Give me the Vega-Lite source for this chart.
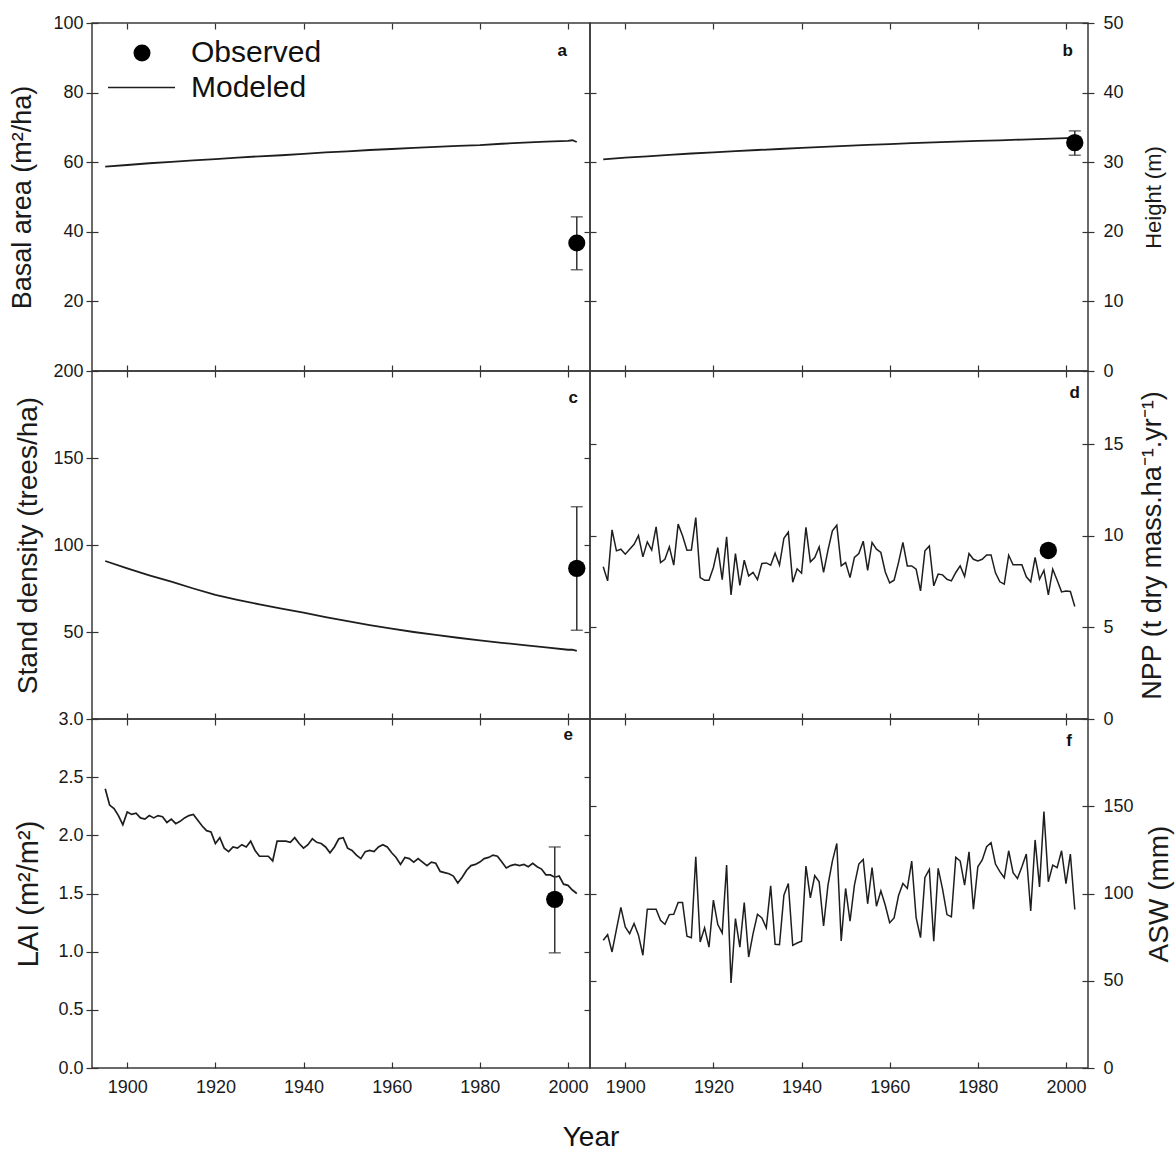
{
  "$schema": "https://vega.github.io/schema/vega-lite/v6.json",
  "background": "white",
  "padding": {"left": 8, "top": 13, "right": 5, "bottom": 5},
  "bounds": "flush",
  "spacing": 0,
  "columns": 2,
  "title": {"text": "Year", "orient": "bottom", "anchor": "middle", "frame": "bounds", "fontSize": 28, "fontWeight": "normal", "offset": 27, "color": "#111"},
  "config": {
    "font": "Liberation Sans",
    "view": {"stroke": "#3a3a3a", "strokeWidth": 1.5},
    "axis": {"domain": false, "grid": false, "tickColor": "#333", "tickWidth": 1.2, "labelFont": "Liberation Sans", "labelFontSize": 18, "labelColor": "#1a1a1a", "titleFont": "Liberation Sans", "titleFontWeight": "normal", "titleColor": "#1a1a1a"},
    "title": {"font": "Liberation Sans"}
  },
  "datasets": {
    "ba_mod": [
      {"year":1895,"value":58.7},{"year":1900,"value":59.2},{"year":1905,"value":59.7},{"year":1910,"value":60.1},{"year":1915,"value":60.5},{"year":1920,"value":60.9},{"year":1925,"value":61.3},{"year":1930,"value":61.7},{"year":1935,"value":62.0},{"year":1940,"value":62.4},{"year":1945,"value":62.8},{"year":1950,"value":63.1},{"year":1955,"value":63.5},{"year":1960,"value":63.8},{"year":1965,"value":64.1},{"year":1970,"value":64.4},{"year":1975,"value":64.7},{"year":1980,"value":64.9},{"year":1985,"value":65.3},{"year":1990,"value":65.6},{"year":1995,"value":65.9},{"year":2000,"value":66.1},{"year":2001,"value":66.3},{"year":2002,"value":65.8}
    ],
    "ht_mod": [
      {"year":1895,"value":30.4},{"year":1900,"value":30.65},{"year":1905,"value":30.85},{"year":1910,"value":31.05},{"year":1915,"value":31.25},{"year":1920,"value":31.4},{"year":1925,"value":31.6},{"year":1930,"value":31.75},{"year":1935,"value":31.9},{"year":1940,"value":32.05},{"year":1945,"value":32.2},{"year":1950,"value":32.35},{"year":1955,"value":32.5},{"year":1960,"value":32.6},{"year":1965,"value":32.75},{"year":1970,"value":32.85},{"year":1975,"value":32.95},{"year":1980,"value":33.05},{"year":1985,"value":33.15},{"year":1990,"value":33.25},{"year":1995,"value":33.35},{"year":2000,"value":33.45},{"year":2002,"value":33.5}
    ],
    "sd_mod": [
      {"year":1895,"value":90.8},{"year":1900,"value":86.6},{"year":1905,"value":82.6},{"year":1910,"value":78.9},{"year":1915,"value":75.0},{"year":1920,"value":71.3},{"year":1925,"value":68.5},{"year":1930,"value":65.9},{"year":1935,"value":63.4},{"year":1940,"value":61.1},{"year":1945,"value":58.6},{"year":1950,"value":56.3},{"year":1955,"value":54.0},{"year":1960,"value":51.9},{"year":1965,"value":50.0},{"year":1970,"value":48.3},{"year":1975,"value":46.7},{"year":1980,"value":45.2},{"year":1985,"value":43.8},{"year":1990,"value":42.5},{"year":1995,"value":41.2},{"year":2000,"value":39.8},{"year":2001,"value":39.9},{"year":2002,"value":39.1}
    ],
    "npp_mod": [
      {"year":1895,"value":8.31},{"year":1896,"value":7.54},{"year":1897,"value":10.33},{"year":1898,"value":9.18},{"year":1899,"value":9.27},{"year":1900,"value":9.00},{"year":1901,"value":9.27},{"year":1902,"value":9.54},{"year":1903,"value":10.02},{"year":1904,"value":8.85},
      {"year":1905,"value":9.67},{"year":1906,"value":9.22},{"year":1907,"value":10.49},{"year":1908,"value":8.54},{"year":1909,"value":8.72},{"year":1910,"value":9.40},{"year":1911,"value":8.40},{"year":1912,"value":10.64},{"year":1913,"value":10.00},{"year":1914,"value":9.22},
      {"year":1915,"value":9.23},{"year":1916,"value":11.00},{"year":1917,"value":7.72},{"year":1918,"value":7.58},{"year":1919,"value":7.58},{"year":1920,"value":8.27},{"year":1921,"value":9.36},{"year":1922,"value":7.61},{"year":1923,"value":9.95},{"year":1924,"value":6.78},
      {"year":1925,"value":9.03},{"year":1926,"value":7.30},{"year":1927,"value":8.67},{"year":1928,"value":7.81},{"year":1929,"value":8.00},{"year":1930,"value":7.61},{"year":1931,"value":8.49},{"year":1932,"value":8.52},{"year":1933,"value":8.40},{"year":1934,"value":9.05},
      {"year":1935,"value":8.40},{"year":1936,"value":9.87},{"year":1937,"value":10.20},{"year":1938,"value":7.47},{"year":1939,"value":8.20},{"year":1940,"value":7.96},{"year":1941,"value":10.46},{"year":1942,"value":8.58},{"year":1943,"value":8.82},{"year":1944,"value":9.40},
      {"year":1945,"value":8.00},{"year":1946,"value":9.22},{"year":1947,"value":10.27},{"year":1948,"value":10.58},{"year":1949,"value":8.36},{"year":1950,"value":8.54},{"year":1951,"value":7.72},{"year":1952,"value":8.82},{"year":1953,"value":9.03},{"year":1954,"value":9.71},
      {"year":1955,"value":8.12},{"year":1956,"value":9.64},{"year":1957,"value":9.27},{"year":1958,"value":9.09},{"year":1959,"value":8.03},{"year":1960,"value":7.43},{"year":1961,"value":7.58},{"year":1962,"value":8.54},{"year":1963,"value":9.64},{"year":1964,"value":8.36},
      {"year":1965,"value":8.36},{"year":1966,"value":8.18},{"year":1967,"value":6.99},{"year":1968,"value":9.18},{"year":1969,"value":9.45},{"year":1970,"value":7.27},{"year":1971,"value":7.91},{"year":1972,"value":7.87},{"year":1973,"value":7.63},{"year":1974,"value":7.54},
      {"year":1975,"value":8.00},{"year":1976,"value":8.36},{"year":1977,"value":7.78},{"year":1978,"value":9.03},{"year":1979,"value":8.72},{"year":1980,"value":8.63},{"year":1981,"value":8.72},{"year":1982,"value":8.96},{"year":1983,"value":8.96},{"year":1984,"value":7.98},
      {"year":1985,"value":7.49},{"year":1986,"value":7.36},{"year":1987,"value":8.94},{"year":1988,"value":8.42},{"year":1989,"value":8.42},{"year":1990,"value":8.42},{"year":1991,"value":7.76},{"year":1992,"value":7.49},{"year":1993,"value":8.82},{"year":1994,"value":7.63},
      {"year":1995,"value":8.12},{"year":1996,"value":6.78},{"year":1997,"value":8.18},{"year":1998,"value":7.58},{"year":1999,"value":6.94},{"year":2000,"value":6.99},{"year":2001,"value":6.96},{"year":2002,"value":6.14}
    ],
    "lai_mod": [
      {"year":1895,"value":2.40},{"year":1896,"value":2.26},{"year":1897,"value":2.23},{"year":1898,"value":2.17},{"year":1899,"value":2.09},{"year":1900,"value":2.20},{"year":1901,"value":2.18},{"year":1902,"value":2.19},{"year":1903,"value":2.15},{"year":1904,"value":2.14},
      {"year":1905,"value":2.17},{"year":1906,"value":2.15},{"year":1907,"value":2.17},{"year":1908,"value":2.16},{"year":1909,"value":2.11},{"year":1910,"value":2.14},{"year":1911,"value":2.10},{"year":1912,"value":2.12},{"year":1913,"value":2.15},{"year":1914,"value":2.17},
      {"year":1915,"value":2.18},{"year":1916,"value":2.13},{"year":1917,"value":2.08},{"year":1918,"value":2.04},{"year":1919,"value":2.03},{"year":1920,"value":1.93},{"year":1921,"value":1.98},{"year":1922,"value":1.89},{"year":1923,"value":1.86},{"year":1924,"value":1.90},
      {"year":1925,"value":1.89},{"year":1926,"value":1.92},{"year":1927,"value":1.90},{"year":1928,"value":1.95},{"year":1929,"value":1.87},{"year":1930,"value":1.82},{"year":1931,"value":1.82},{"year":1932,"value":1.82},{"year":1933,"value":1.78},{"year":1934,"value":1.95},
      {"year":1935,"value":1.95},{"year":1936,"value":1.95},{"year":1937,"value":1.94},{"year":1938,"value":1.98},{"year":1939,"value":1.93},{"year":1940,"value":1.89},{"year":1941,"value":1.92},{"year":1942,"value":1.97},{"year":1943,"value":1.94},{"year":1944,"value":1.93},
      {"year":1945,"value":1.90},{"year":1946,"value":1.85},{"year":1947,"value":1.90},{"year":1948,"value":1.97},{"year":1949,"value":1.98},{"year":1950,"value":1.89},{"year":1951,"value":1.87},{"year":1952,"value":1.83},{"year":1953,"value":1.80},{"year":1954,"value":1.86},
      {"year":1955,"value":1.87},{"year":1956,"value":1.86},{"year":1957,"value":1.90},{"year":1958,"value":1.92},{"year":1959,"value":1.90},{"year":1960,"value":1.85},{"year":1961,"value":1.81},{"year":1962,"value":1.75},{"year":1963,"value":1.81},{"year":1964,"value":1.80},
      {"year":1965,"value":1.77},{"year":1966,"value":1.80},{"year":1967,"value":1.77},{"year":1968,"value":1.74},{"year":1969,"value":1.77},{"year":1970,"value":1.76},{"year":1971,"value":1.69},{"year":1972,"value":1.68},{"year":1973,"value":1.67},{"year":1974,"value":1.65},
      {"year":1975,"value":1.59},{"year":1976,"value":1.64},{"year":1977,"value":1.70},{"year":1978,"value":1.74},{"year":1979,"value":1.75},{"year":1980,"value":1.77},{"year":1981,"value":1.80},{"year":1982,"value":1.81},{"year":1983,"value":1.83},{"year":1984,"value":1.82},
      {"year":1985,"value":1.77},{"year":1986,"value":1.72},{"year":1987,"value":1.74},{"year":1988,"value":1.75},{"year":1989,"value":1.74},{"year":1990,"value":1.75},{"year":1991,"value":1.73},{"year":1992,"value":1.76},{"year":1993,"value":1.73},{"year":1994,"value":1.71},
      {"year":1995,"value":1.66},{"year":1996,"value":1.66},{"year":1997,"value":1.64},{"year":1998,"value":1.65},{"year":1999,"value":1.58},{"year":2000,"value":1.57},{"year":2001,"value":1.53},{"year":2002,"value":1.50}
    ],
    "asw_mod": [
      {"year":1895,"value":73.2},{"year":1896,"value":76.4},{"year":1897,"value":66.5},{"year":1898,"value":79.5},{"year":1899,"value":92.0},{"year":1900,"value":80.8},{"year":1901,"value":77.0},{"year":1902,"value":82.8},{"year":1903,"value":76.1},{"year":1904,"value":64.6},
      {"year":1905,"value":91.0},{"year":1906,"value":91.0},{"year":1907,"value":91.0},{"year":1908,"value":84.7},{"year":1909,"value":82.4},{"year":1910,"value":87.9},{"year":1911,"value":88.1},{"year":1912,"value":94.8},{"year":1913,"value":94.8},{"year":1914,"value":75.5},
      {"year":1915,"value":74.7},{"year":1916,"value":121.1},{"year":1917,"value":72.2},{"year":1918,"value":80.3},{"year":1919,"value":69.3},{"year":1920,"value":96.2},{"year":1921,"value":82.2},{"year":1922,"value":77.4},{"year":1923,"value":116.3},{"year":1924,"value":48.7},
      {"year":1925,"value":85.6},{"year":1926,"value":69.3},{"year":1927,"value":94.8},{"year":1928,"value":63.6},{"year":1929,"value":77.0},{"year":1930,"value":88.1},{"year":1931,"value":86.0},{"year":1932,"value":80.3},{"year":1933,"value":104.4},{"year":1934,"value":70.9},
      {"year":1935,"value":70.7},{"year":1936,"value":99.0},{"year":1937,"value":105.7},{"year":1938,"value":70.3},{"year":1939,"value":71.6},{"year":1940,"value":72.6},{"year":1941,"value":115.7},{"year":1942,"value":97.5},{"year":1943,"value":110.2},{"year":1944,"value":106.7},
      {"year":1945,"value":81.4},{"year":1946,"value":104.8},{"year":1947,"value":118.6},{"year":1948,"value":128.7},{"year":1949,"value":72.8},{"year":1950,"value":102.9},{"year":1951,"value":84.1},{"year":1952,"value":104.8},{"year":1953,"value":116.9},{"year":1954,"value":119.5},
      {"year":1955,"value":94.1},{"year":1956,"value":114.9},{"year":1957,"value":92.7},{"year":1958,"value":101.5},{"year":1959,"value":93.3},{"year":1960,"value":83.3},{"year":1961,"value":86.0},{"year":1962,"value":98.7},{"year":1963,"value":105.7},{"year":1964,"value":102.9},
      {"year":1965,"value":118.6},{"year":1966,"value":86.2},{"year":1967,"value":74.7},{"year":1968,"value":109.2},{"year":1969,"value":113.8},{"year":1970,"value":72.6},{"year":1971,"value":114.4},{"year":1972,"value":102.5},{"year":1973,"value":87.9},{"year":1974,"value":86.6},
      {"year":1975,"value":120.7},{"year":1976,"value":118.6},{"year":1977,"value":104.8},{"year":1978,"value":123.9},{"year":1979,"value":91.0},{"year":1980,"value":115.3},{"year":1981,"value":119.2},{"year":1982,"value":126.8},{"year":1983,"value":129.1},{"year":1984,"value":116.9},
      {"year":1985,"value":112.5},{"year":1986,"value":109.0},{"year":1987,"value":124.5},{"year":1988,"value":111.9},{"year":1989,"value":108.6},{"year":1990,"value":115.3},{"year":1991,"value":122.6},{"year":1992,"value":90.0},{"year":1993,"value":130.7},{"year":1994,"value":103.8},
      {"year":1995,"value":146.9},{"year":1996,"value":106.7},{"year":1997,"value":116.3},{"year":1998,"value":114.8},{"year":1999,"value":124.5},{"year":2000,"value":105.7},{"year":2001,"value":122.6},{"year":2002,"value":90.8}
    ],
    "ba_obs": [{"year":2002,"value":36.8,"lo":29.1,"hi":44.3,"type":"Observed"}],
    "ht_obs": [{"year":2002,"value":32.8,"lo":31.0,"hi":34.5}],
    "sd_obs": [{"year":2002,"value":86.6,"lo":51,"hi":122}],
    "npp_obs": [{"year":1996,"value":9.2}],
    "lai_obs": [{"year":1997,"value":1.45,"lo":0.99,"hi":1.90}]
  },
  "concat": [
    {
      "width": 498, "height": 348,
      "title": {"text": "a", "anchor": "end", "frame": "group", "orient": "top", "offset": -46, "dx": -23, "fontSize": 17, "fontWeight": "bold", "color": "#111"},
      "layer": [
        {"data": {"name": "ba_mod"}, "mark": {"type": "line", "strokeWidth": 1.8},
         "encoding": {
           "x": {"field": "year", "type": "quantitative", "scale": {"domain": [1892, 2005], "nice": false, "zero": false}, "axis": {"orient": "bottom", "values": [1900,1920,1940,1960,1980,2000], "labels": false, "tickSize": -6, "title": null}},
           "y": {"field": "value", "type": "quantitative", "scale": {"domain": [0, 100], "nice": false, "zero": false}, "axis": {"orient": "left", "values": [20,40,60,80,100], "offset": -6, "tickSize": 12, "labelPadding": 3, "title": "Basal area (m²/ha)", "titleFontSize": 27, "titlePadding": 16}},
           "color": {"datum": "Modeled", "type": "nominal", "scale": {"domain": ["Modeled"], "range": ["#1e1e1e"]},
             "legend": {"title": null, "orient": "none", "legendX": 15, "legendY": 30, "padding": 0, "symbolSize": 4489, "symbolStrokeWidth": 1.6, "symbolType": "stroke", "labelFontSize": 30, "labelFont": "Liberation Sans", "labelColor": "#111", "labelOffset": 15}}
         }},
        {"data": {"name": "ba_mod"}, "mark": {"type": "line", "opacity": 0},
         "encoding": {
           "x": {"field": "year", "type": "quantitative", "axis": {"orient": "top", "values": [1900,1920,1940,1960,1980,2000], "labels": false, "tickSize": -6, "title": null}},
           "y": {"field": "value", "type": "quantitative", "axis": {"orient": "right", "values": [20,40,60,80], "labels": false, "tickSize": -6, "title": null}}
         }},
        {"data": {"name": "ba_obs"}, "mark": {"type": "errorbar", "color": "#333", "thickness": 1.5, "ticks": {"size": 12}},
         "encoding": {"x": {"field": "year", "type": "quantitative", "axis": null}, "y": {"field": "lo", "type": "quantitative", "axis": null}, "y2": {"field": "hi"}}},
        {"data": {"name": "ba_obs"}, "mark": {"type": "point", "filled": true, "color": "#000", "size": 290, "opacity": 1},
         "encoding": {
           "x": {"field": "year", "type": "quantitative", "axis": null},
           "y": {"field": "value", "type": "quantitative", "axis": null},
           "shape": {"field": "type", "type": "nominal", "scale": {"domain": ["Observed"], "range": ["circle"]},
             "legend": {"title": null, "orient": "none", "legendX": 35, "legendY": 15, "padding": 0, "symbolSize": 290, "labelFontSize": 30, "labelFont": "Liberation Sans", "labelColor": "#111", "labelOffset": 34, "symbolFillColor": "#000", "symbolOpacity": 1}}
         }}
      ]
    },
    {
      "width": 498, "height": 348,
      "title": {"text": "b", "anchor": "end", "frame": "group", "orient": "top", "offset": -46, "dx": -15, "fontSize": 17, "fontWeight": "bold", "color": "#111"},
      "layer": [
        {"data": {"name": "ht_mod"}, "mark": {"type": "line", "color": "#1e1e1e", "strokeWidth": 1.8},
         "encoding": {
           "x": {"field": "year", "type": "quantitative", "scale": {"domain": [1892, 2005], "nice": false, "zero": false}, "axis": {"orient": "bottom", "values": [1900,1920,1940,1960,1980,2000], "labels": false, "tickSize": -6, "title": null}},
           "y": {"field": "value", "type": "quantitative", "scale": {"domain": [0, 50], "nice": false, "zero": false}, "axis": {"orient": "right", "values": [0,10,20,30,40,50], "offset": -6, "tickSize": 12, "labelPadding": 9, "title": "Height (m)", "titleFontSize": 22, "titlePadding": 20, "titleAngle": 270, "titleBaseline": "top"}}
         }},
        {"data": {"name": "ht_mod"}, "mark": {"type": "line", "opacity": 0},
         "encoding": {
           "x": {"field": "year", "type": "quantitative", "axis": {"orient": "top", "values": [1900,1920,1940,1960,1980,2000], "labels": false, "tickSize": -6, "title": null}},
           "y": {"field": "value", "type": "quantitative", "axis": {"orient": "left", "values": [10,20,30,40], "labels": false, "tickSize": -6, "title": null}}
         }},
        {"data": {"name": "ht_obs"}, "mark": {"type": "errorbar", "color": "#333", "thickness": 1.5, "ticks": {"size": 12}},
         "encoding": {"x": {"field": "year", "type": "quantitative", "axis": null}, "y": {"field": "lo", "type": "quantitative", "axis": null}, "y2": {"field": "hi"}}},
        {"data": {"name": "ht_obs"}, "mark": {"type": "point", "filled": true, "size": 300, "opacity": 1, "color": "#000", "shape": "circle"},
         "encoding": {"x": {"field": "year", "type": "quantitative", "axis": null}, "y": {"field": "value", "type": "quantitative", "axis": null}}}
      ]
    },
    {
      "width": 498, "height": 348,
      "title": {"text": "c", "anchor": "end", "frame": "group", "orient": "top", "offset": -45, "dx": -12, "fontSize": 17, "fontWeight": "bold", "color": "#111"},
      "layer": [
        {"data": {"name": "sd_mod"}, "mark": {"type": "line", "color": "#1e1e1e", "strokeWidth": 1.8},
         "encoding": {
           "x": {"field": "year", "type": "quantitative", "scale": {"domain": [1892, 2005], "nice": false, "zero": false}, "axis": {"orient": "bottom", "values": [1900,1920,1940,1960,1980,2000], "labels": false, "tickSize": -6, "title": null}},
           "y": {"field": "value", "type": "quantitative", "scale": {"domain": [0, 200], "nice": false, "zero": false}, "axis": {"orient": "left", "values": [50,100,150,200], "offset": -6, "tickSize": 12, "labelPadding": 3, "title": "Stand density (trees/ha)", "titleFontSize": 28, "titlePadding": 10}}
         }},
        {"data": {"name": "sd_mod"}, "mark": {"type": "line", "opacity": 0},
         "encoding": {
           "x": {"field": "year", "type": "quantitative", "axis": {"orient": "top", "values": [1900,1920,1940,1960,1980,2000], "labels": false, "tickSize": -6, "title": null}},
           "y": {"field": "value", "type": "quantitative", "axis": {"orient": "right", "values": [50,100,150], "labels": false, "tickSize": -6, "title": null}}
         }},
        {"data": {"name": "sd_obs"}, "mark": {"type": "errorbar", "color": "#333", "thickness": 1.5, "ticks": {"size": 12}},
         "encoding": {"x": {"field": "year", "type": "quantitative", "axis": null}, "y": {"field": "lo", "type": "quantitative", "axis": null}, "y2": {"field": "hi"}}},
        {"data": {"name": "sd_obs"}, "mark": {"type": "point", "filled": true, "size": 300, "opacity": 1, "color": "#000", "shape": "circle"},
         "encoding": {"x": {"field": "year", "type": "quantitative", "axis": null}, "y": {"field": "value", "type": "quantitative", "axis": null}}}
      ]
    },
    {
      "width": 498, "height": 348,
      "title": {"text": "d", "anchor": "end", "frame": "group", "orient": "top", "offset": -32, "dx": -8, "fontSize": 17, "fontWeight": "bold", "color": "#111"},
      "layer": [
        {"data": {"name": "npp_mod"}, "mark": {"type": "line", "color": "#1e1e1e", "strokeWidth": 1.5},
         "encoding": {
           "x": {"field": "year", "type": "quantitative", "scale": {"domain": [1892, 2005], "nice": false, "zero": false}, "axis": {"orient": "bottom", "values": [1900,1920,1940,1960,1980,2000], "labels": false, "tickSize": -6, "title": null}},
           "y": {"field": "value", "type": "quantitative", "scale": {"domain": [0, 19], "nice": false, "zero": false}, "axis": {"orient": "right", "values": [0,5,10,15], "offset": -6, "tickSize": 12, "labelPadding": 9, "title": "NPP (t dry mass.ha⁻¹.yr⁻¹)", "titleFontSize": 27, "titlePadding": 16, "titleAngle": 270, "titleBaseline": "top"}}
         }},
        {"data": {"name": "npp_mod"}, "mark": {"type": "line", "opacity": 0},
         "encoding": {
           "x": {"field": "year", "type": "quantitative", "axis": {"orient": "top", "values": [1900,1920,1940,1960,1980,2000], "labels": false, "tickSize": -6, "title": null}},
           "y": {"field": "value", "type": "quantitative", "axis": {"orient": "left", "values": [5,10,15], "labels": false, "tickSize": -6, "title": null}}
         }},
        {"data": {"name": "npp_obs"}, "mark": {"type": "point", "filled": true, "size": 300, "opacity": 1, "color": "#000", "shape": "circle"},
         "encoding": {"x": {"field": "year", "type": "quantitative", "axis": null}, "y": {"field": "value", "type": "quantitative", "axis": null}}}
      ]
    },
    {
      "width": 498, "height": 349,
      "title": {"text": "e", "anchor": "end", "frame": "group", "orient": "top", "offset": -34, "dx": -17, "fontSize": 17, "fontWeight": "bold", "color": "#111"},
      "layer": [
        {"data": {"name": "lai_mod"}, "mark": {"type": "line", "color": "#1e1e1e", "strokeWidth": 1.7},
         "encoding": {
           "x": {"field": "year", "type": "quantitative", "scale": {"domain": [1892, 2005], "nice": false, "zero": false}, "axis": {"orient": "bottom", "values": [1900,1920,1940,1960,1980,2000], "format": "d", "tickSize": -6, "labelPadding": 16, "labelFontSize": 18, "title": null}},
           "y": {"field": "value", "type": "quantitative", "scale": {"domain": [0, 3], "nice": false, "zero": false}, "axis": {"orient": "left", "values": [0,0.5,1,1.5,2,2.5,3], "format": ".1f", "offset": -6, "tickSize": 12, "labelPadding": 3, "title": "LAI  (m²/m²)", "titleFontSize": 29, "titlePadding": 14}}
         }},
        {"data": {"name": "lai_mod"}, "mark": {"type": "line", "opacity": 0},
         "encoding": {
           "x": {"field": "year", "type": "quantitative", "axis": {"orient": "top", "values": [1900,1920,1940,1960,1980,2000], "labels": false, "tickSize": -6, "title": null}},
           "y": {"field": "value", "type": "quantitative", "axis": {"orient": "right", "values": [0.5,1,1.5,2,2.5], "labels": false, "tickSize": -6, "title": null}}
         }},
        {"data": {"name": "lai_obs"}, "mark": {"type": "errorbar", "color": "#333", "thickness": 1.5, "ticks": {"size": 12}},
         "encoding": {"x": {"field": "year", "type": "quantitative", "axis": null}, "y": {"field": "lo", "type": "quantitative", "axis": null}, "y2": {"field": "hi"}}},
        {"data": {"name": "lai_obs"}, "mark": {"type": "point", "filled": true, "size": 300, "opacity": 1, "color": "#000", "shape": "circle"},
         "encoding": {"x": {"field": "year", "type": "quantitative", "axis": null}, "y": {"field": "value", "type": "quantitative", "axis": null}}}
      ]
    },
    {
      "width": 498, "height": 349,
      "title": {"text": "f", "anchor": "end", "frame": "group", "orient": "top", "offset": -32, "dx": -16, "fontSize": 17, "fontWeight": "bold", "color": "#111"},
      "layer": [
        {"data": {"name": "asw_mod"}, "mark": {"type": "line", "color": "#1e1e1e", "strokeWidth": 1.5},
         "encoding": {
           "x": {"field": "year", "type": "quantitative", "scale": {"domain": [1892, 2005], "nice": false, "zero": false}, "axis": {"orient": "bottom", "values": [1900,1920,1940,1960,1980,2000], "format": "d", "tickSize": -6, "labelPadding": 16, "labelFontSize": 18, "title": null}},
           "y": {"field": "value", "type": "quantitative", "scale": {"domain": [0, 200], "nice": false, "zero": false}, "axis": {"orient": "right", "values": [0,50,100,150], "offset": -6, "tickSize": 12, "labelPadding": 9, "title": "ASW (mm)", "titleFontSize": 28, "titlePadding": 12, "titleAngle": 270, "titleBaseline": "top"}}
         }},
        {"data": {"name": "asw_mod"}, "mark": {"type": "line", "opacity": 0},
         "encoding": {
           "x": {"field": "year", "type": "quantitative", "axis": {"orient": "top", "values": [1900,1920,1940,1960,1980,2000], "labels": false, "tickSize": -6, "title": null}},
           "y": {"field": "value", "type": "quantitative", "axis": {"orient": "left", "values": [50,100,150], "labels": false, "tickSize": -6, "title": null}}
         }}
      ]
    }
  ]
}
